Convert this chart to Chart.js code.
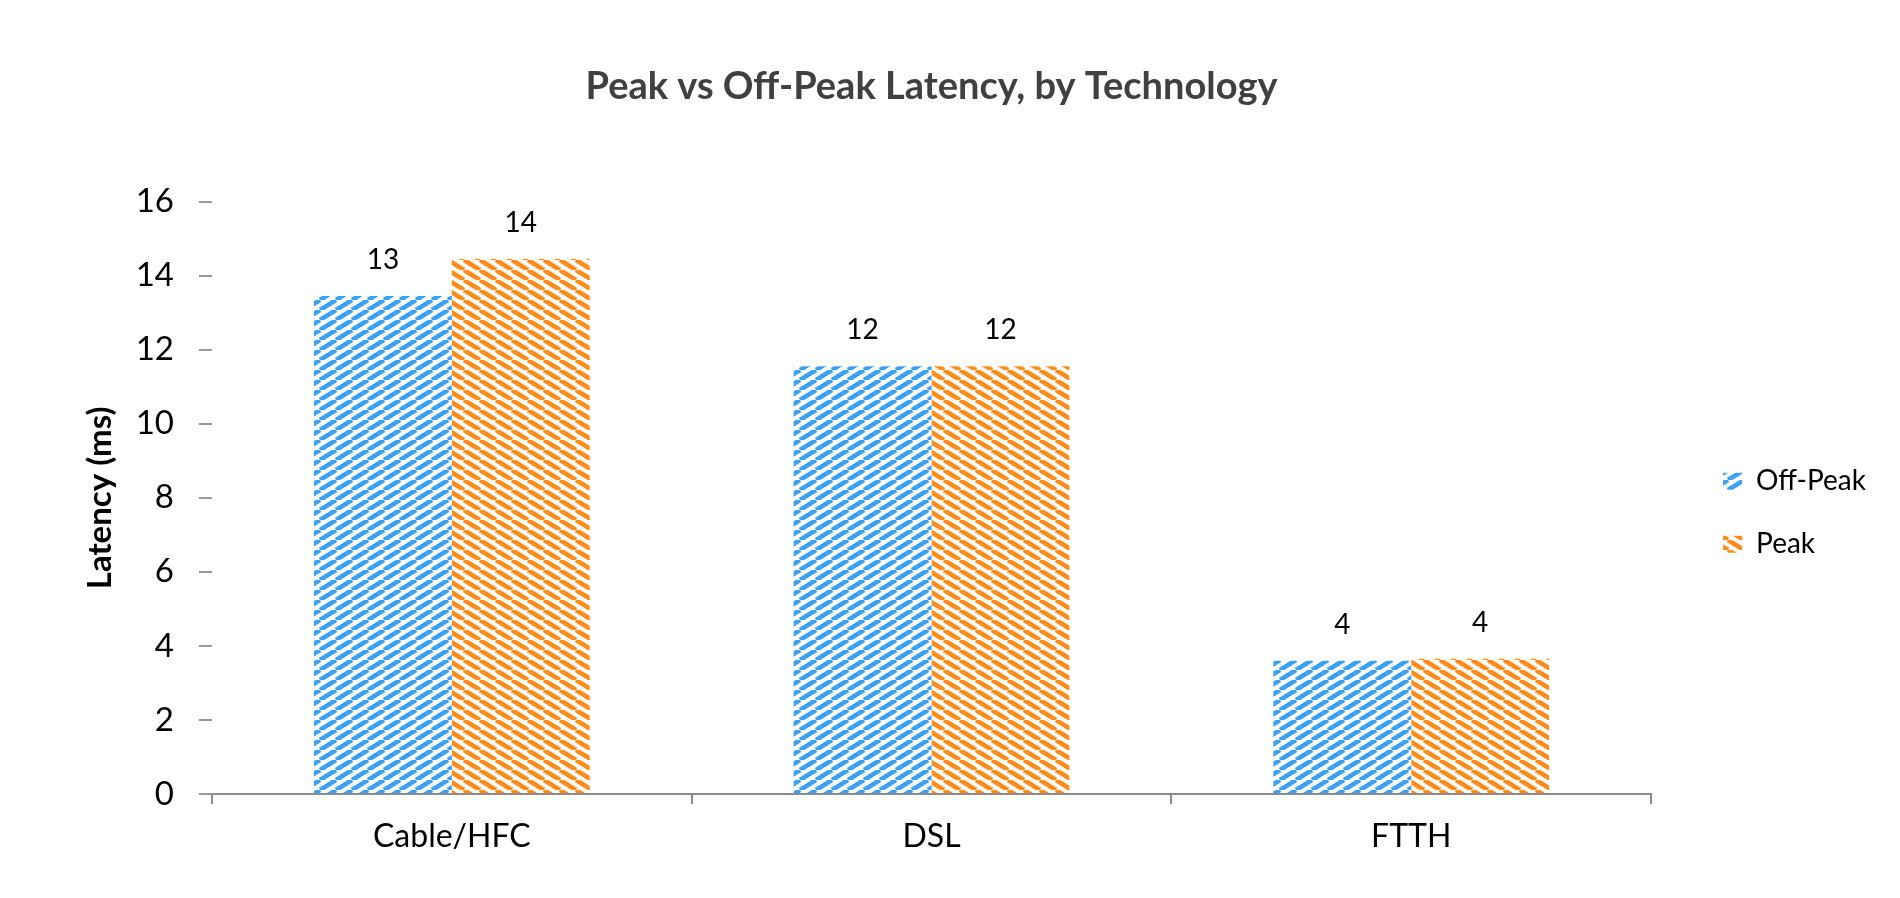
<!DOCTYPE html>
<html>
<head>
<meta charset="utf-8">
<title>Peak vs Off-Peak Latency, by Technology</title>
<script src="https://cdn.jsdelivr.net/npm/chart.js@4.4.1/dist/chart.umd.min.js"></script>
<style>
  html, body { margin:0; padding:0; background:#fff; }
  #wrap { width:1900px; height:898px; position:relative; }
</style>
</head>
<body>
<div id="wrap"><canvas id="latencyChart"></canvas></div>
<script>
// 값은 그림에서 읽은 추정치 (ms)
const technologies = ["Cable/HFC", "DSL", "FTTH"];
const offPeak = [13.45, 11.55, 3.6];
const peak = [14.45, 11.55, 3.65];
const yTicks = [0, 2, 4, 6, 8, 10, 12, 14, 16];

// 엑셀식 사선 패턴 (16x10 타일)
function stripes(color, rising){
  const c = document.createElement("canvas");
  c.width = 16; c.height = 10;
  const g = c.getContext("2d");
  g.fillStyle = "#fff";
  g.fillRect(0, 0, 16, 10);
  g.strokeStyle = color;
  g.lineWidth = 4.6;
  [-16, 0, 16].forEach(dx=>{
    g.beginPath();
    if(rising){ g.moveTo(dx, 10); g.lineTo(dx+16, 0); }
    else { g.moveTo(dx, 0); g.lineTo(dx+16, 10); }
    g.stroke();
  });
  return g.createPattern(c, "repeat");
}

// 막대 위 값 라벨
const barValues = {
  id: "barValues",
  afterDatasetsDraw(chart){
    const {ctx} = chart;
    ctx.save();
    ctx.font = "28px Lato";
    ctx.fillStyle = "#000";
    ctx.textAlign = "center";
    ctx.textBaseline = "middle";
    chart.data.datasets.forEach((ds, i)=>{
      chart.getDatasetMeta(i).data.forEach((bar, j)=>{
        ctx.fillText(Math.round(ds.data[j]), bar.x, bar.y - 36);
      });
    });
    ctx.restore();
  }
};

Chart.defaults.font.family = "Lato";
Chart.defaults.color = "#000";

new Chart(document.getElementById("latencyChart"), {
  type: "bar",
  data: {
    labels: technologies,
    datasets: [
      {label:"Off-Peak", data: offPeak, backgroundColor: stripes("#3ca0f5", true), borderWidth:0},
      {label:"Peak", data: peak, backgroundColor: stripes("#ff8c1a", false), borderWidth:0},
    ]
  },
  options: {
    responsive:true, maintainAspectRatio:false, animation:false,
    layout:{padding:{left:40, right:24, top:0, bottom:0}},
    datasets:{bar:{categoryPercentage:0.575, barPercentage:1}},
    plugins:{
      tooltip:{enabled:false},
      title:{
        display:true, fullSize:false,
        text:"Peak vs Off-Peak Latency, by Technology",
        color:"#404040",
        font:{size:38, weight:"bold"},
        padding:{top:64, bottom:92}
      },
      legend:{
        position:"right", fullSize:false,
        title:{display:true, text:" ", font:{size:10}, padding:{top:9, bottom:9}},
        labels:{boxWidth:19, boxHeight:17, padding:35, color:"#000", font:{size:28}}
      }
    },
    scales:{
      x:{
        grid:{drawOnChartArea:false, drawTicks:true, tickLength:10, color:"#8c8c8c", lineWidth:2},
        border:{display:true, color:"#8c8c8c", width:2},
        ticks:{font:{size:32}, color:"#000", padding:13},
        afterFit(s){ s.height = 104; }
      },
      y:{
        min:0, max:16,
        afterBuildTicks(s){ s.ticks = yTicks.map(v=>({value:v})); },
        grid:{drawOnChartArea:false, drawTicks:true, tickLength:13, color:"#9a9a9a", lineWidth:2},
        border:{display:false},
        ticks:{font:{size:33}, color:"#000", padding:25},
        title:{display:true, text:"Latency (ms)", color:"#000", font:{size:33, weight:"bold"}, padding:{top:41, bottom:0}},
        afterFit(s){ s.width = 172; }
      },
      gap:{
        type:"linear", position:"right", display:true,
        grid:{display:false}, border:{display:false}, ticks:{display:false},
        afterFit(s){ s.width = 37; }
      }
    }
  },
  plugins:[barValues]
});
</script>
</body>
</html>
